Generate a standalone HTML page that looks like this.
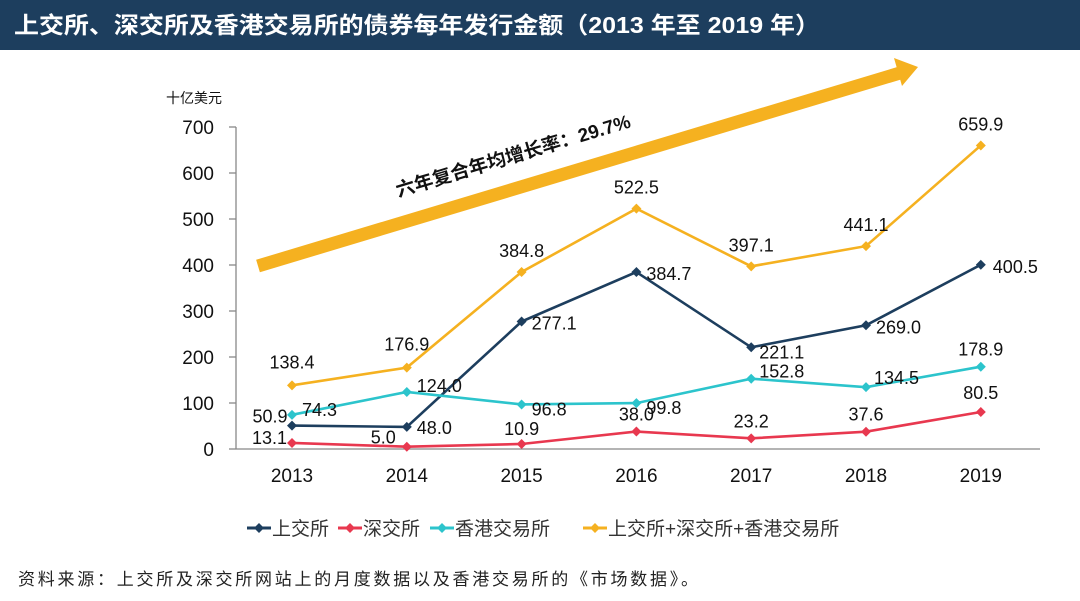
<!DOCTYPE html>
<html><head><meta charset="utf-8"><style>
body{margin:0;width:1080px;height:601px;background:#fff;overflow:hidden;font-family:"Liberation Sans","Noto Sans CJK SC",sans-serif}
</style></head><body>
<svg id="c" width="1080" height="601" style="position:absolute;left:0;top:0">
<rect x="0" y="0" width="1080" height="50" fill="#1d3e5e"/>
<text x="14" y="33" font-size="23" font-weight="bold" fill="#fff" textLength="806" lengthAdjust="spacingAndGlyphs">上交所、深交所及香港交易所的债券每年发行金额（2013 年至 2019 年）</text>
</svg>
<script>
const years=["2013","2014","2015","2016","2017","2018","2019"];
const sse=[50.9,48.0,277.1,384.7,221.1,269.0,400.5];
const szse=[13.1,5.0,10.9,38.0,23.2,37.6,80.5];
const hkex=[74.3,124.0,96.8,99.8,152.8,134.5,178.9];
const total=[138.4,176.9,384.8,522.5,397.1,441.1,659.9];
const yTicks=[0,100,200,300,400,500,600,700];
const svg=document.getElementById('c');const NS='http://www.w3.org/2000/svg';
function el(t,a,p){const e=document.createElementNS(NS,t);for(const k in a)e.setAttribute(k,a[k]);(p||svg).appendChild(e);return e;}
const X=i=>292+i*114.8, Y=v=>449-v*0.46;
const ar=el('g',{});


el('line',{x1:258,y1:266,x2:900,y2:73,stroke:'#f5b120','stroke-width':13},ar);
el('polygon',{points:'918,67 894,58 902,86',fill:'#f5b120'},ar);
const at=el('text',{x:515,y:162,'font-size':19,'font-weight':'bold','text-anchor':'middle',fill:'#111',transform:'rotate(-16.7 515 162)'});
at.textContent='六年复合年均增长率：29.7%';


const ax=el('g',{stroke:'#888','stroke-width':1.3});


el('line',{x1:236,y1:Y(700),x2:236,y2:Y(0)},ax);
el('line',{x1:236,y1:Y(0),x2:1040,y2:Y(0)},ax);
yTicks.forEach(v=>{el('line',{x1:229,y1:Y(v),x2:236,y2:Y(v)},ax);
const t=el('text',{x:214,y:Y(v)+7,'font-size':19,'text-anchor':'end',fill:'#111'});t.textContent=v;

});
const u=el('text',{x:166,y:103,'font-size':14,fill:'#111'});u.textContent='十亿美元';


years.forEach((y,i)=>{const t=el('text',{x:X(i),y:482,'font-size':19,'text-anchor':'middle',fill:'#111'});t.textContent=y;

});
const series=[
 {n:'sse',d:sse,c:'#1d3e5e',off:[[-22,-4,'middle'],[10,6,'start'],[10,7,'start'],[10,7,'start'],[8,10,'start'],[10,7,'start'],[12,7,'start']]},
 {n:'szse',d:szse,c:'#e8384f',off:[[-40,0,'start'],[-36,-4,'start'],[0,-10,'middle'],[0,-12,'middle'],[0,-12,'middle'],[0,-12,'middle'],[0,-14,'middle']]},
 {n:'hkex',d:hkex,c:'#2cc4cc',off:[[10,0,'start'],[10,-1,'start'],[10,10,'start'],[10,10,'start'],[8,-2,'start'],[8,-4,'start'],[0,-12,'middle']]},
 {n:'total',d:total,c:'#f5b120',off:[[0,-18,'middle'],[0,-18,'middle'],[0,-16,'middle'],[0,-16,'middle'],[0,-16,'middle'],[0,-16,'middle'],[0,-16,'middle']]}
];
series.forEach(s=>{const g=el('g',{});


el('polyline',{points:s.d.map((v,i)=>X(i)+','+Y(v)).join(' '),fill:'none',stroke:s.c,'stroke-width':2.6},g);
s.d.forEach((v,i)=>{const x=X(i),y=Y(v);const m=el('polygon',{points:`${x},${y-5} ${x+5},${y} ${x},${y+5} ${x-5},${y}`,fill:s.c},g);


const o=s.off[i];const t=el('text',{x:x+o[0],y:y+o[1]+1,'font-size':18,'text-anchor':o[2],fill:'#111'},g);t.textContent=v.toFixed(1);

});});
const lg=[['上交所','#1d3e5e',247],['深交所','#e8384f',338],['香港交易所','#2cc4cc',430],['上交所+深交所+香港交易所','#f5b120',583]];
lg.forEach(l=>{const g=el('g',{});


el('line',{x1:l[2],y1:528,x2:l[2]+24,y2:528,stroke:l[1],'stroke-width':3},g);
el('polygon',{points:`${l[2]+12},523 ${l[2]+17},528 ${l[2]+12},533 ${l[2]+7},528`,fill:l[1]},g);
const t=el('text',{x:l[2]+25,y:535,'font-size':19,fill:'#333'},g);t.textContent=l[0];});
const src=el('text',{x:18,y:585,'font-size':17,fill:'#222',textLength:680,lengthAdjust:'spacing'});src.textContent='资料来源：上交所及深交所网站上的月度数据以及香港交易所的《市场数据》。';


</script>
</body></html>
